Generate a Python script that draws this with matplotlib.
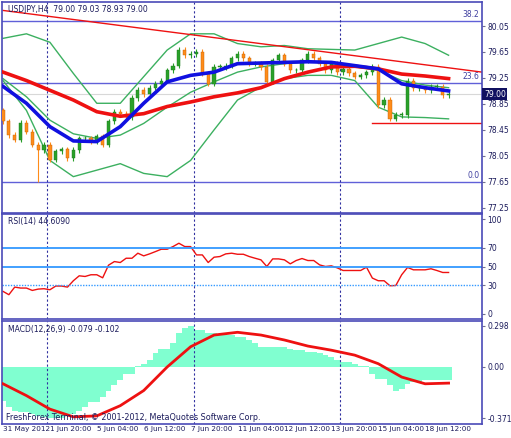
import numpy as np
import matplotlib
matplotlib.use('Agg')
import matplotlib.pyplot as plt

# H4 closes, one per bar
closes = [78.58, 78.37, 78.30, 78.56, 78.42, 78.22, 78.14, 78.22, 77.99, 78.12,
          78.15, 78.01, 78.14, 78.32, 78.32, 78.27, 78.35, 78.22, 78.58, 78.73,
          78.70, 78.65, 78.94, 79.07, 79.00, 79.10,
          79.16, 79.21, 79.37, 79.44, 79.68, 79.60, 79.62, 79.65, 79.32, 79.16,
          79.42, 79.42, 79.44, 79.55, 79.62, 79.55, 79.47, 79.47, 79.42, 79.19,
          79.52, 79.60, 79.47, 79.37, 79.37, 79.52, 79.62, 79.55, 79.47, 79.37,
          79.47, 79.34, 79.39, 79.32, 79.27, 79.29, 79.34, 79.42, 78.83, 78.91,
          78.62, 78.68, 78.68, 79.21, 79.09, 79.09, 79.06, 79.11, 79.11, 78.98, 79.00]
first_open = 78.75

# lines read every 4 bars
line_idx = list(range(0, 77, 4))
ma_fast = [79.12, 78.86, 78.50, 78.28, 78.27, 78.50, 78.86, 79.19, 79.29, 79.34,
           79.47, 79.48, 79.49, 79.50, 79.49, 79.44, 79.39, 79.16, 79.10, 79.05]
ma_slow = [79.34, 79.21, 79.06, 78.91, 78.73, 78.66, 78.70, 78.81, 78.88, 78.96,
           79.02, 79.10, 79.24, 79.34, 79.42, 79.43, 79.39, 79.31, 79.28, 79.24]
bb_up = [79.86, 79.93, 79.80, 79.32, 78.86, 78.86, 79.27, 79.68, 79.93, 79.93,
         79.78, 79.73, 79.75, 79.70, 79.69, 79.68, 79.78, 79.88, 79.78, 79.60]
bb_mid = [79.24, 78.96, 78.60, 78.39, 78.32, 78.37, 78.55, 78.80, 79.03, 79.19,
          79.34, 79.42, 79.47, 79.50, 79.47, 79.42, 79.37, 79.21, 79.14, 79.10]
bb_low = [79.21, 78.75, 77.98, 77.73, 77.83, 77.93, 77.78, 77.73, 77.98, 78.45,
          78.91, 79.11, 79.24, 79.29, 79.29, 79.21, 78.80, 78.65, 78.64, 78.62]

rsi = [23.8, 20.3, 28.3, 27.3, 27.3, 24.8, 26.2, 26.6, 25.5, 29.4,
       29.4, 28.3, 35, 40.2, 39.5, 41.3, 41.3, 38.1, 51.4, 55.2,
       54.2, 58.7, 58.7, 64, 61.2, 63.3, 65.7, 68.2, 68.2, 71,
       74.5, 71, 71, 62.2, 62.2, 54.2, 59.8, 60.5, 63.3, 64,
       62.9, 62.9, 60.5, 58.7, 57, 50, 58, 58, 57, 52.8,
       56.3, 58.4, 56.3, 56.3, 51.7, 50, 50.7, 48.6, 45.8, 45.8,
       45.8, 45.8, 49.3, 37.8, 35, 35, 29.7, 30, 41.3, 49,
       46.5, 46.5, 46.5, 47.6, 45.8, 43.7, 43.7]

macd_hist = [-0.245, -0.29, -0.32, -0.325, -0.325, -0.34, -0.355, -0.36, -0.367, -0.367,
             -0.367, -0.355, -0.34, -0.32, -0.29, -0.257, -0.257, -0.22, -0.171, -0.134,
             -0.098, -0.05, -0.05, 0.007, 0.02, 0.05, 0.1, 0.134, 0.134, 0.176,
             0.245, 0.28, 0.298, 0.27, 0.27, 0.245, 0.245, 0.23, 0.23, 0.23,
             0.22, 0.22, 0.196, 0.176, 0.147, 0.147, 0.147, 0.147, 0.147, 0.134,
             0.122, 0.122, 0.11, 0.11, 0.098, 0.086, 0.073, 0.054, 0.037, 0.037,
             0.02, 0.007, 0.005, -0.05, -0.086, -0.086, -0.134, -0.176, -0.16, -0.12,
             -0.11, -0.11, -0.098, -0.098, -0.093, -0.093, -0.093]
macd_signal = [-0.122, -0.208, -0.306, -0.362, -0.355, -0.281, -0.171, 0.0, 0.147, 0.232,
               0.252, 0.232, 0.196, 0.152, 0.122, 0.086, 0.024, -0.073, -0.122, -0.117]

date_labels = ['31 May 2012', '1 Jun 20:00', '5 Jun 04:00', '6 Jun 12:00', '7 Jun 20:00',
               '11 Jun 04:00', '12 Jun 12:00', '13 Jun 20:00', '15 Jun 04:00', '18 Jun 12:00']
price_ticks = [80.05, 79.65, 79.25, 78.85, 78.45, 78.05, 77.65, 77.25]
day_lines = [7.5, 32.5, 57.5]

frame = '#4a4ab8'
txt = '#1c1c5c'
fs = 5.5

fig = plt.figure(figsize=(5.11, 4.38), dpi=100)
W, H = 511, 438
def box(top, bot):
    return [2 / W, 1 - bot / H, 480 / W, (bot - top) / H]

ax1 = fig.add_axes(box(2, 213))
ax2 = fig.add_axes(box(214, 319))
ax3 = fig.add_axes(box(321, 424))
xlim = (-0.17, 81.7)
for ax in (ax1, ax2, ax3):
    ax.set_xlim(*xlim)
    for s in ax.spines.values():
        s.set_color(frame)
        s.set_linewidth(1.2)
    ax.yaxis.tick_right()
    ax.tick_params(axis='y', labelsize=fs, colors='#707090', length=2.5, pad=1.5)
    ax.tick_params(axis='y', labelcolor=txt)
    ax.set_xticks([])
    for d in day_lines:
        ax.axvline(d, color='#3030a0', lw=0.8, ls=(0, (2, 2)))

# price panel
n = len(closes)
opens = [first_open] + closes[:-1]
for i in range(n):
    o, c = opens[i], closes[i]
    col = '#2aa02a' if c >= o else '#ff8c1a'
    lo = min(o, c) - 0.04
    if i == 6:
        lo = 77.65
    ax1.vlines(i, lo, max(o, c) + 0.04, color=col, lw=0.8, zorder=3)
    ax1.bar(i, max(abs(c - o), 0.01), bottom=min(o, c), width=0.55, color=col,
            edgecolor='#c06000' if c < o else '#1a7a1a', lw=0.3, zorder=4)
ax1.plot(line_idx, bb_up, color='#3cb060', lw=1.0, zorder=2)
ax1.plot(line_idx, bb_mid, color='#3cb060', lw=1.0, zorder=2)
ax1.plot(line_idx, bb_low, color='#3cb060', lw=1.0, zorder=2)
ax1.plot(line_idx, ma_slow, color='#ee1111', lw=2.6, zorder=5)
ax1.plot(line_idx, ma_fast, color='#1010e0', lw=2.6, zorder=6)
ax1.plot([0, 81.7], [80.29, 79.34], color='#ee1111', lw=1.0, zorder=2)
ax1.plot([63, 81.7], [78.55, 78.55], color='#ee1111', lw=1.0, zorder=2)
for lvl, lab in [(80.13, '38.2'), (79.18, '23.6'), (77.65, '0.0')]:
    ax1.axhline(lvl, color='#6060d8', lw=1.0, zorder=1)
    ax1.text(81.3, lvl + 0.03, lab, ha='right', va='bottom', fontsize=fs, color='#4040a0')
ax1.axhline(79.00, color='#d8d8d8', lw=0.8, zorder=1)
ax1.set_ylim(77.17, 80.42)
ax1.set_yticks(price_ticks)
ax1.set_yticklabels(['%.2f' % p for p in price_ticks])
ax1.text(1.004, (79.00 - 77.17) / (80.42 - 77.17), '79.00', transform=ax1.transAxes,
         fontsize=fs, color='white', va='center', ha='left',
         bbox=dict(boxstyle='square,pad=0.2', fc='#101060', ec='none'))
ax1.text(0.012, 0.985, 'USDJPY,H4  79.00 79.03 78.93 79.00', transform=ax1.transAxes,
         fontsize=fs, color=txt, va='top')

# RSI panel
ax2.plot(range(n), rsi, color='#ee1111', lw=1.0)
for lvl in (70, 50, 30):
    ax2.axhline(lvl, color='#3399ff', lw=1.3 if lvl != 30 else 1.0,
                ls='-' if lvl != 30 else (0, (1, 1)))
ax2.set_ylim(-5.3, 105.3)
ax2.set_yticks([100, 70, 50, 30, 0])
ax2.set_yticklabels(['100', '70', '50', '30', '0'])
ax2.text(0.012, 0.97, 'RSI(14) 44.6090', transform=ax2.transAxes, fontsize=fs, color=txt, va='top')

# MACD panel
ax3.bar(range(n), macd_hist, width=1.0, color='#80ffd0', zorder=1)
ax3.plot(line_idx, macd_signal, color='#ee1111', lw=2.0, zorder=3)
ax3.set_ylim(-0.414, 0.334)
ax3.set_yticks([0.298, 0.0, -0.371])
ax3.set_yticklabels(['0.298', '0.00', '-0.371'])
ax3.text(0.012, 0.96, 'MACD(12,26,9) -0.079 -0.102', transform=ax3.transAxes,
         fontsize=fs, color=txt, va='top')
ax3.text(0.008, 0.015, 'FreshForex Terminal, \u00a9 2001-2012, MetaQuotes Software Corp.',
         transform=ax3.transAxes, fontsize=5.8, color=txt, va='bottom')

# date axis
for k, lab in enumerate(date_labels):
    ax3.text(k * 8, -0.43, lab, fontsize=5.2, color=txt, ha='left', va='top', clip_on=False)

fig.savefig('out.png', dpi=100)
